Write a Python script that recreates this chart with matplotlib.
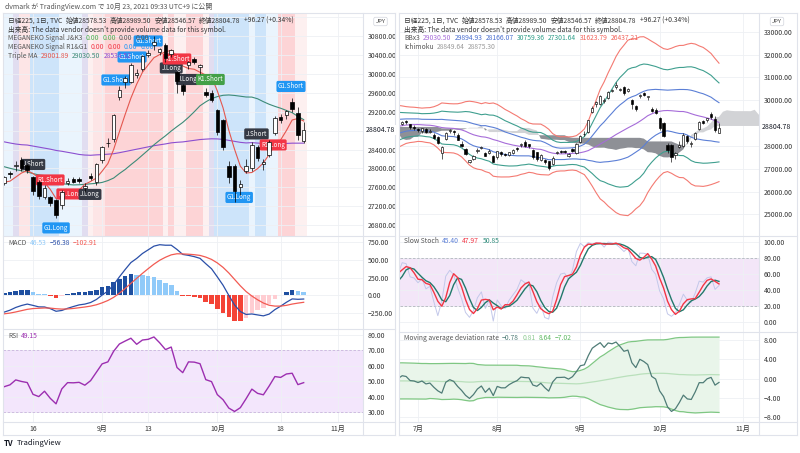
import numpy as np
import pandas as pd
import matplotlib
matplotlib.use("Agg")
import matplotlib.pyplot as plt
from matplotlib.lines import Line2D
from matplotlib.patches import Rectangle

plt.rcParams['font.family'] = ['Noto Sans CJK JP', 'DejaVu Sans']
plt.rcParams['axes.unicode_minus'] = True

# ---------------- data ----------------
# daily closes Jan 4 - Jun 23 2021 (warm-up history for the indicators)
hist_close = [
    27258, 27158, 27056, 27490, 28139, 28164, 28456, 28698, 28519, 28242,
    28633, 28523, 28757, 28631, 28822, 28546, 28635, 28197, 27663,
    28091, 28362, 28646, 28341, 28779, 29388, 29505, 29562, 29520, 30084,
    30467, 30292, 30236, 30017, 30156, 29671, 30168, 28966,
    29664, 29408, 29559, 28930, 28864, 28743, 29028, 29036, 29212, 29718,
    29766, 29921, 29914, 30216, 29792, 29174, 28996, 28405, 28729, 29176,
    29385, 29432, 29178, 28938, 29854,
    30089, 29696, 29730, 29709, 29768, 29539, 29751, 29621, 29642, 29683,
    29685, 29100, 28508, 29188, 29020, 29126, 28991, 29053, 28812,
    29331, 29357, 29518, 28608, 28147, 27448, 28084,
    27824, 28406, 28044, 28098, 28317, 28364, 28553, 28642, 28549, 29149,
    28860, 28814, 28946, 29058, 28941, 29019, 28963, 28860, 28958, 28948,
    29161, 29441, 29291, 29018, 28964, 28011, 28884, 28874,
]

dates = ['06-24', '06-25', '06-28', '06-29', '06-30',
         '07-01', '07-02', '07-05', '07-06', '07-07', '07-08', '07-09', '07-12', '07-13', '07-14',
         '07-15', '07-16', '07-19', '07-20', '07-21', '07-26', '07-27', '07-28', '07-29', '07-30',
         '08-02', '08-03', '08-04', '08-05', '08-06', '08-10', '08-11', '08-12', '08-13', '08-16',
         '08-17', '08-18', '08-19', '08-20', '08-23', '08-24', '08-25', '08-26', '08-27', '08-30', '08-31',
         '09-01', '09-02', '09-03', '09-06', '09-07', '09-08', '09-09', '09-10', '09-13', '09-14',
         '09-15', '09-16', '09-17', '09-21', '09-22', '09-24', '09-27', '09-28', '09-29', '09-30',
         '10-01', '10-04', '10-05', '10-06', '10-07', '10-08', '10-11', '10-12', '10-13', '10-14',
         '10-15', '10-18', '10-19', '10-20', '10-21', '10-22']

opens = [28800, 28950, 29100, 28950, 28850,
         28750, 28650, 28750, 28600, 28500, 28400, 27700, 28300, 28650, 28650,
         28500, 28100, 27850, 27300, 27450, 27800, 27900, 27700, 27700, 27550,
         27500, 27750, 27650, 27600, 27700, 27900, 28050, 28187, 28080, 27815,
         27715, 27400, 27390, 27330, 27230, 27700, 27780, 27780, 27580, 27850, 27710,
         28180, 28530, 28620, 29500, 29820, 29820, 29980, 30100, 30400, 30600,
         30450, 30600, 30420, 30030, 29760, 30180, 30300, 30150, 29610, 29590,
         29230, 29020, 28050, 28050, 27600, 27950, 28000, 28450, 28100, 28290,
         28750, 29080, 29120, 29400, 29170, 28578.53]
highs = [28920, 29100, 29150, 28980, 28900,
         28800, 28800, 28800, 28750, 28550, 28450, 28000, 28600, 28750, 28700,
         28550, 28200, 27900, 27400, 27600, 27900, 28000, 27750, 27850, 27600,
         27800, 27800, 27700, 27750, 27850, 27950, 28150, 28250, 28100, 27850,
         27750, 27650, 27420, 27350, 27550, 27800, 27820, 27830, 27700, 27900, 28120,
         28480, 28650, 29150, 29750, 29950, 30230, 30100, 30400, 30500, 30795.78,
         30550, 30640, 30520, 30050, 29780, 30270, 30350, 30200, 29700, 29650,
         29250, 29050, 28150, 28100, 27750, 28200, 28550, 28500, 28200, 28600,
         29100, 29150, 29240, 29489.92, 29300, 28989.50]
lows = [28750, 28900, 28950, 28750, 28700,
        28620, 28550, 28550, 28550, 28300, 28100, 27420, 28250, 28550, 28500,
        28250, 27950, 27600, 27270, 27400, 27700, 27850, 27550, 27650, 27280,
        27450, 27550, 27550, 27550, 27650, 27800, 27950, 27950, 27900, 27450,
        27350, 27350, 27200, 26954.81, 27150, 27650, 27700, 27700, 27500, 27750, 27650,
        28120, 28450, 28550, 29450, 29700, 29800, 29900, 30050, 30350, 30500,
        30400, 30250, 30350, 29600, 29550, 30100, 30200, 30000, 29500, 29400,
        28700, 28400, 27700, 27293.63, 27450, 27900, 27950, 28150, 27975, 28250,
        28700, 28950, 29050, 29200, 28600, 28546.57]
closes = [28875, 29066, 29048, 28812, 28792,
          28707, 28783, 28598, 28643, 28367, 28118, 27940, 28569, 28718, 28608,
          28279, 28003, 27652, 27388, 27548, 27833, 27970, 27582, 27782, 27284,
          27781, 27642, 27584, 27728, 27820, 27888, 28071, 28015, 27977, 27523,
          27424, 27586, 27281, 27013, 27494, 27732, 27725, 27742, 27641, 27789, 28090,
          28451, 28544, 29128, 29660, 29916, 30181, 30008, 30382, 30447, 30670,
          30512, 30323, 30500, 29840, 29639, 30249, 30240, 30184, 29544, 29453,
          28771, 28445, 27822, 27529, 27678, 28049, 28498, 28231, 28140, 28551,
          29069, 29025, 29216, 29256, 28708.51, 28804.78]

# left chart: signal background per bar from Aug 6 and signal labels
bg_cats = ['pb', 'pb', 'lav', 'lp', 'lp', 'b', 'b', 'b', 'b', 'b', 'pb', 'pb', 'pb', 'pb',
           'lav', 'pp', 'lp', 'lp', 'p', 'p', 'p', 'p', 'p', 'p', 'p', 'p', 'p', 'p',
           'pp', 'p', 'pp', 'pp', 'p', 'p', 'p', 'pp', 'lav', 'b', 'b', 'b', 'b', 'b', 'b',
           'pb', 'b', 'b', 'pb', 'pb', 'p', 'p', 'p', 'pp', 'pp']
sig_text = ['J.Short', 'R1.Short', 'G1.Long', 'R1.Long', 'J.Long', 'G1.Short', 'G1.Short',
            'G1.Short', 'J.Long', 'R1.Short', 'J.Long', 'K1.Short', 'G1.Long', 'J.Short',
            'R1.Long', 'G1.Short']
sig_bar = [5, 8, 9, 11.4, 14.9, 19.4, 22.2, 25.0, 29.0, 30.0, 31.8, 35.8, 40.8, 43.8, 46.7, 49.8]
sig_price = [28085, 27758, 26746, 27463, 27453, 29868, 30353, 30691, 30121, 30311, 29878,
             29878, 27389, 28729, 28497, 29731]

left_ticks = ['08-16', '09-01', '09-13', '10-01', '10-18', 'NOV1']
left_tick_labels = ['16', '9月', '13', '10月', '18', '11月']
right_ticks = ['07-01', '08-02', '09-01', '10-01', 'NOV1']
right_tick_labels = ['7月', '8月', '9月', '10月', '11月']

# ---------------- indicators ----------------
n_hist = len(hist_close)
C = np.array(hist_close + closes, float)
Hh = np.array(hist_close + highs, float)
Ll = np.array(hist_close + lows, float)
g = np.arange(len(C))
idx = {d: n_hist + i for i, d in enumerate(dates)}
idx['NOV1'] = idx['10-22'] + 6
s = pd.Series(C)
sh, sl = pd.Series(Hh), pd.Series(Ll)

ma5 = s.rolling(5).mean()
ma25 = s.rolling(25).mean()
ma75 = s.rolling(75).mean()
sd25 = s.rolling(25).std(ddof=0)

ema12 = s.ewm(span=12, adjust=False).mean()
ema26 = s.ewm(span=26, adjust=False).mean()
macd = ema12 - ema26
signal = macd.ewm(span=9, adjust=False).mean()
mhist = macd - signal

d = s.diff()
up = d.clip(lower=0).ewm(alpha=1/14, adjust=False).mean()
dn = (-d.clip(upper=0)).ewm(alpha=1/14, adjust=False).mean()
rsi = 100 - 100 / (1 + up / dn)

hh26 = sh.rolling(26).max()
ll26 = sl.rolling(26).min()
fk = 100 * (s - ll26) / (hh26 - ll26)
sk = fk.rolling(3).mean()
sdd = sk.rolling(3).mean()

dev = (s - ma25) / ma25 * 100
dev_mid = dev.rolling(50).mean()
dev_sd = dev.rolling(50).std(ddof=0)
dev_up = dev_mid + 2 * dev_sd
dev_lo = dev_mid - 2 * dev_sd

tenkan = (sh.rolling(9).max() + sl.rolling(9).min()) / 2
kijun = (sh.rolling(26).max() + sl.rolling(26).min()) / 2
spanA = ((tenkan + kijun) / 2).values
spanB = ((sh.rolling(52).max() + sl.rolling(52).min()) / 2).values

# ---------------- figure ----------------
W, Hpx = 800, 453
fig = plt.figure(figsize=(8, 4.53), dpi=100)
fig.patch.set_facecolor('white')
GRID = '#eef0f4'
SEP = '#e0e3eb'
TXT = '#333333'


def px_axes(x0, y0, x1, y1):
    ax = fig.add_axes([x0 / W, 1 - y1 / Hpx, (x1 - x0) / W, (y1 - y0) / Hpx])
    for sp in ax.spines.values():
        sp.set_visible(False)
    ax.set_facecolor('none')
    ax.yaxis.tick_right()
    ax.tick_params(axis='y', length=0, pad=3.5, labelsize=5, colors=TXT)
    ax.tick_params(axis='x', length=0, labelbottom=False)
    ax.grid(True, color=GRID, lw=0.6, zorder=0)
    ax.set_axisbelow(True)
    return ax


def fline(x0, y0, x1, y1, c=SEP, lw=0.8):
    fig.add_artist(Line2D([x0 / W, x1 / W], [1 - y0 / Hpx, 1 - y1 / Hpx], color=c, lw=lw))


def rich(x, y, parts, size=4.85, gap=3.2):
    r = fig.canvas.get_renderer()
    cx = x
    for txt, col in parts:
        t = fig.text(cx / W, 1 - y / Hpx, txt, color=col, fontsize=size, va='center', ha='left')
        cx += t.get_window_extent(renderer=r).width + gap


def candles(ax, gi, width, lw):
    for k in gi:
        i = k - n_hist
        o, h, l, c = opens[i], highs[i], lows[i], closes[i]
        ax.vlines(k, l, h, color='black', lw=lw, zorder=4)
        lo, hi = min(o, c), max(o, c)
        ax.add_patch(Rectangle((k - width / 2, lo), width, max(hi - lo, 8),
                               facecolor='white' if c >= o else 'black',
                               edgecolor='black', lw=lw, zorder=5))


def fmt(v):
    return ('−' if v < 0 else '') + '%.2f' % abs(v)


# ================= LEFT PANEL =================
g0 = idx['08-06']
lx = (g0 - 0.21, g0 + 62.3)
ltick = [idx[k] for k in left_ticks]

ax1 = px_axes(3, 13, 363, 235.5)
ax1.set_xlim(*lx)
ax1.set_ylim(26586, 31281)
yt = list(range(26800, 31201, 400))
ax1.set_yticks(yt)
ax1.set_yticklabels(['' if v in (28800, 31200) else '%.2f' % v for v in yt])
ax1.set_xticks(ltick)
bgcol = {'pb': '#eaf4fd', 'b': '#cde4fa', 'lav': '#e1ddf0', 'lp': '#fde5e6',
         'p': '#fdd4d6', 'pp': '#fdf0f0'}
for i, cat in enumerate(bg_cats):
    ax1.axvspan(g0 + i - 0.5, g0 + i + 0.5, color=bgcol[cat], lw=0, zorder=0.5)
for t, b, p in zip(sig_text, sig_bar, sig_price):
    col = {'J': '#363a45', 'R': '#f23645', 'G': '#2196f3', 'K': '#43a047'}[t[0]]
    ax1.text(g0 + b, p, t, ha='center', va='center', fontsize=4.5, color='white', zorder=3,
             bbox=dict(boxstyle='round,pad=0.25', fc=col, ec='none'))
ax1.plot(g, ma75, color='#8c4fd0', lw=0.8, zorder=2)
ax1.plot(g, ma25, color='#3d8b78', lw=0.8, zorder=2)
ax1.plot(g, ma5, color='#e4574f', lw=0.8, zorder=2)
candles(ax1, range(g0, idx['10-22'] + 1), 0.62, 0.5)

ax2 = px_axes(3, 235.5, 363, 328.5)
ax2.set_xlim(*lx)
ax2.set_ylim(-476, 848)
ax2.set_yticks([-250, 0, 250, 500, 750])
ax2.set_yticklabels([fmt(v) for v in [-250, 0, 250, 500, 750]])
ax2.set_xticks(ltick)
hv = mhist.values
hp = np.r_[hv[0], hv[:-1]]
hcol = np.where(hv >= 0, np.where(hv > hp, '#1e4fa0', '#90caf9'),
                np.where(hv > hp, '#ffcdd2', '#f44336'))
vis = g[g0 - 2:idx['10-22'] + 1]
ax2.bar(vis, hv[vis], width=0.8, color=hcol[vis], zorder=2)
ax2.plot(g, macd, color='#2a4fa8', lw=0.9, zorder=3)
ax2.plot(g, signal, color='#f25a52', lw=0.9, zorder=3)

ax3 = px_axes(3, 328.5, 363, 421.5)
ax3.set_xlim(*lx)
ax3.set_ylim(24.2, 83.9)
ax3.set_yticks(range(30, 81, 10))
ax3.set_yticklabels(['%.2f' % v for v in range(30, 81, 10)])
ax3.axhspan(30, 70, color='#f3e6fc', lw=0, zorder=0.5)
ax3.axhline(70, color='#c9b3de', lw=0.6, ls=(0, (3, 2)))
ax3.axhline(30, color='#c9b3de', lw=0.6, ls=(0, (3, 2)))
ax3.plot(g, rsi, color='#9c2fb0', lw=1.0, zorder=3)
ax3.set_xticks(ltick)
ax3.set_xticklabels(left_tick_labels)
ax3.tick_params(axis='x', labelbottom=True, labelsize=5, colors=TXT, pad=2.5)

# ================= RIGHT PANEL =================
gj = idx['07-01']
rx = (gj - 4.55, gj + 86.1)
rtick = [idx[k] for k in right_ticks]

ax4 = px_axes(400, 13, 759, 235.5)
ax4.set_xlim(*rx)
ax4.set_ylim(24080, 33820)
ryt = list(range(25000, 33001, 1000))
ax4.set_yticks(ryt)
ax4.set_yticklabels(['' if v == 29000 else '%.2f' % v for v in ryt])
ax4.set_xticks(rtick)
xc = g + 25
ax4.fill_between(xc, spanA, spanB, where=spanA >= spanB, interpolate=True,
                 color='#d2d3d6', lw=0, zorder=1)
ax4.fill_between(xc, spanA, spanB, where=spanA < spanB, interpolate=True,
                 color='#8e9096', lw=0, zorder=1)
bbc = [(3, '#f47a72'), (2, '#3f9f8f'), (1, '#5b7fd6')]
for k, col in bbc:
    ax4.plot(g, ma25 + k * sd25, color=col, lw=0.8, zorder=2)
    ax4.plot(g, ma25 - k * sd25, color=col, lw=0.8, zorder=2)
ax4.plot(g, ma25, color='#a66cd9', lw=0.8, zorder=2)
candles(ax4, range(idx['06-24'], idx['10-22'] + 1), 0.55, 0.45)

ax5 = px_axes(400, 235.5, 759, 332)
ax5.set_xlim(*rx)
ax5.set_ylim(-12.9, 107.75)
ax5.set_yticks(range(0, 101, 20))
ax5.set_yticklabels(['%.2f' % v for v in range(0, 101, 20)])
ax5.set_xticks(rtick)
ax5.axhspan(20, 80, color='#f3e6f8', lw=0, zorder=0.5)
ax5.axhline(80, color='#b2b5be', lw=0.6, ls=(0, (3, 2)))
ax5.axhline(20, color='#b2b5be', lw=0.6, ls=(0, (3, 2)))
ax5.plot(g, fk, color='#c3c8ea', lw=0.7, zorder=2)
ax5.plot(g, sdd, color='#22796b', lw=1.0, zorder=3)
ax5.plot(g, sk, color='#f23645', lw=1.0, zorder=4)

ax6 = px_axes(400, 332, 759, 421.5)
ax6.set_xlim(*rx)
ax6.set_ylim(-8.9, 9.7)
ax6.set_yticks([-8, -4, 0, 4, 8])
ax6.set_yticklabels([fmt(v) for v in [-8, -4, 0, 4, 8]])
ax6.fill_between(g, dev_lo, dev_up, color='#e9f5ea', lw=0, zorder=1)
ax6.plot(g, dev_up, color='#7fc783', lw=0.9, zorder=2)
ax6.plot(g, dev_lo, color='#7fc783', lw=0.9, zorder=2)
ax6.plot(g, dev_mid, color='#b9e0bb', lw=0.9, zorder=2)
ax6.plot(g, dev, color='#4f7c77', lw=0.9, zorder=3)
ax6.set_xticks(rtick)
ax6.set_xticklabels(right_tick_labels)
ax6.tick_params(axis='x', labelbottom=True, labelsize=5, colors=TXT, pad=2.5)

# ---------------- frames / separators ----------------
for (x0, x1, xa, seps) in [(3, 395, 363, [235.5, 328.5, 421.5]),
                           (399, 797, 759, [235.5, 332, 421.5])]:
    fline(x0, 13, x1, 13)
    fline(x0, 435, x1, 435)
    fline(x0, 13, x0, 435)
    fline(x1, 13, x1, 435)
    fline(xa, 13, xa, 435)
    for yy in seps:
        fline(x0, yy, x1, yy)

# ---------------- price labels / JPY ----------------
bbw = dict(boxstyle='square,pad=0.15', fc='white', ec='none')
fig.text(366 / W, 1 - 130.4 / Hpx, '28804.78', fontsize=5, color='#131722',
         va='center', ha='left', bbox=bbw)
fig.text(762 / W, 1 - 127.3 / Hpx, '28804.78', fontsize=5, color='#131722',
         va='center', ha='left', bbox=bbw)
for cx in (380.5, 777):
    fig.text(cx / W, 1 - 21.5 / Hpx, 'JPY', fontsize=4.2, color='#444', ha='center', va='center',
             bbox=dict(boxstyle='round,pad=0.3', fc='white', ec='#d1d4dc', lw=0.5))

# ---------------- legends ----------------
ohlc = [('日経225, 1日, TVC', TXT), ('始値28578.53', TXT), ('高値28989.50', TXT),
        ('安値28546.57', TXT), ('終値28804.78', TXT), ('+96.27 (+0.34%)', TXT)]
vol = [("出来高: The data vendor doesn't provide volume data for this symbol.", TXT)]
LBL = '#555555'
rich(8, 21, ohlc)
rich(8, 30, vol)
rich(8, 38.5, [('MEGANEKO Signal J&K3', LBL), ('0.00', '#4caf50'), ('0.00', '#4caf50'),
               ('0.00', LBL), ('0.00', LBL)])
rich(8, 47, [('MEGANEKO Signal R1&G1', LBL), ('0.00', '#f23645'), ('0.00', '#f23645'),
             ('0.00', '#2196f3'), ('0.00', '#2196f3')])
rich(8, 55.5, [('Triple MA', LBL), ('29001.89', '#e4574f'), ('29030.50', '#3d8b78'),
               ('28534.52', '#8c4fd0')])
rich(8, 243, [('MACD', LBL), ('46.53', '#90caf9'), ('−56.38', '#2a4fa8'), ('−102.91', '#f25a52')])
rich(8, 336, [('RSI', LBL), ('49.15', '#9c2fb0')])

rich(404, 21, ohlc)
rich(404, 30, vol)
rich(404, 38.5, [('BBx3', LBL), ('29030.50', '#a66cd9'), ('29894.93', '#4a6fd0'),
                 ('28166.07', '#4a6fd0'), ('30759.36', '#2e9e8a'), ('27301.64', '#2e9e8a'),
                 ('31623.79', '#f2625a'), ('26437.21', '#f2625a')])
rich(404, 47, [('Ichimoku', LBL), ('28849.64', '#9a9a9a'), ('28875.30', '#9a9a9a')])
rich(404, 241.5, [('Slow Stoch', LBL), ('45.40', '#5b7fd6'), ('47.97', '#f23645'),
                  ('50.85', '#2e8b7a')])
rich(404, 338, [('Moving average deviation rate', LBL), ('−0.78', '#4f7c77'), ('0.81', '#8bc98f'),
                ('8.64', '#5cb85f'), ('−7.02', '#5cb85f')])

# header / footer
fig.text(5 / W, 1 - 6.5 / Hpx, 'dvmark が TradingView.com で 10月 23, 2021 09:33 UTC+9 に公開',
         fontsize=5, color='#555', va='center', ha='left')
fig.text(4 / W, 1 - 443 / Hpx, 'TV', fontsize=5.5, fontweight='bold', color='#131722',
         va='center', ha='left')
fig.text(17 / W, 1 - 443 / Hpx, 'TradingView', fontsize=5.5, color='#131722',
         va='center', ha='left')

fig.savefig('out.png', dpi=100, facecolor='white')
